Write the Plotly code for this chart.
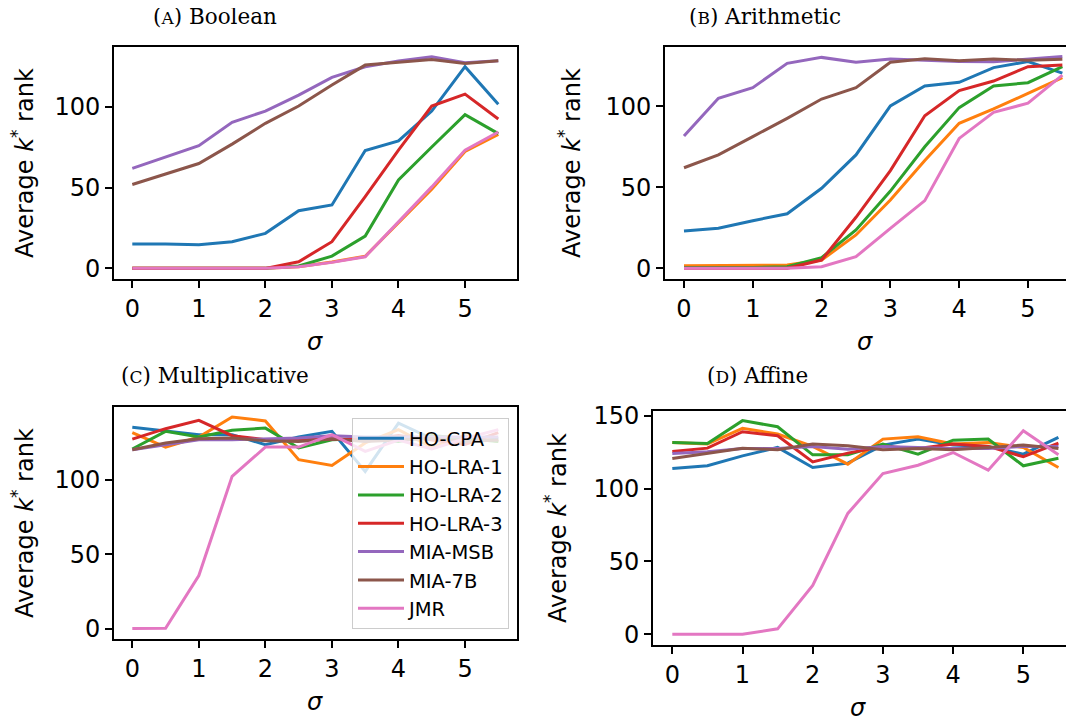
import plotly.graph_objects as go

W, H = 1074, 722
OFF = 8  # the page body adds an 8px margin around the figure

sigma = [0, 0.5, 1, 1.5, 2, 2.5, 3, 3.5, 4, 4.5, 5, 5.5]
methods = ["HO-CPA", "HO-LRA-1", "HO-LRA-2", "HO-LRA-3", "MIA-MSB", "MIA-7B", "JMR"]
colors = ["#1f77b4", "#ff7f0e", "#2ca02c", "#d62728", "#9467bd", "#8c564b", "#e377c2"]

# (A) Boolean
boolean_vals = {
    "HO-CPA":   [15.1, 15.1, 14.6, 16.5, 21.7, 35.7, 39.3, 73.0, 79.0, 97.5, 125.0, 101.8],
    "HO-LRA-1": [0, 0, 0, 0, 0, 1.0, 4.0, 7.5, 28.5, 49.0, 72.5, 83.0],
    "HO-LRA-2": [0, 0, 0, 0, 0, 1.5, 7.6, 20.0, 54.8, 75.2, 95.3, 83.5],
    "HO-LRA-3": [0, 0, 0, 0, 0, 4.1, 16.5, 44.5, 73.3, 100.6, 108.0, 92.6],
    "MIA-MSB":  [62.0, 69.0, 76.0, 90.5, 97.5, 107.4, 118.4, 125.0, 128.5, 131.2, 127.5, 128.7],
    "MIA-7B":   [52.0, 58.5, 65.0, 77.0, 89.9, 100.6, 113.6, 126.0, 127.7, 129.5, 127.0, 128.7],
    "JMR":      [0, 0, 0, 0, 0, 1.0, 3.7, 7.2, 29.0, 50.5, 73.3, 84.5],
}

# (B) Arithmetic
arithmetic_vals = {
    "HO-CPA":   [23.0, 24.7, 29.4, 33.7, 49.4, 70.0, 100.2, 112.6, 114.8, 123.9, 127.6, 120.5],
    "HO-LRA-1": [1.6, 1.6, 2.0, 2.0, 5.1, 20.6, 42.2, 66.5, 89.5, 98.4, 108.0, 117.7],
    "HO-LRA-2": [0.5, 0.5, 0.5, 1.0, 6.6, 23.7, 47.7, 75.0, 99.2, 112.5, 114.6, 124.5],
    "HO-LRA-3": [0, 0, 0, 0, 5.1, 31.5, 60.3, 94.2, 109.7, 115.6, 124.5, 125.5],
    "MIA-MSB":  [81.7, 105.0, 111.5, 126.5, 130.2, 127.2, 129.2, 128.4, 127.6, 127.5, 129.2, 130.7],
    "MIA-7B":   [62.1, 70.0, 81.3, 92.6, 104.5, 111.5, 127.2, 129.4, 128.2, 129.2, 128.4, 129.0],
    "JMR":      [0, 0, 0, 0, 1.0, 7.2, 24.7, 41.8, 80.2, 96.3, 101.9, 119.3],
}

# (C) Multiplicative
multiplicative_vals = {
    "HO-CPA":   [135.5, 132.8, 130.6, 130.6, 123.8, 129.0, 132.8, 105.8, 138.4, 128.0, 128.5, 128.0],
    "HO-LRA-1": [132.0, 122.2, 129.0, 142.5, 139.8, 113.7, 109.9, 125.0, 134.0, 122.0, 130.0, 126.0],
    "HO-LRA-2": [120.9, 132.8, 129.0, 133.5, 135.0, 121.6, 127.2, 128.0, 126.0, 130.0, 128.0, 126.0],
    "HO-LRA-3": [127.6, 134.6, 140.2, 129.9, 127.2, 127.2, 127.9, 127.0, 130.0, 127.0, 124.0, 132.0],
    "MIA-MSB":  [120.4, 123.8, 127.2, 127.2, 127.9, 128.3, 129.9, 129.0, 129.0, 129.0, 129.5, 129.0],
    "MIA-7B":   [120.4, 125.0, 127.9, 128.3, 126.5, 126.0, 127.6, 126.0, 127.0, 128.0, 126.0, 127.0],
    "JMR":      [0.0, 0.2, 35.7, 102.5, 122.2, 122.2, 130.6, 119.3, 127.0, 121.0, 128.0, 134.0],
}

# (D) Affine
affine_vals = {
    "HO-CPA":   [113.7, 115.6, 122.4, 128.2, 114.4, 117.4, 129.8, 133.9, 129.8, 128.9, 123.6, 135.1],
    "HO-LRA-1": [131.6, 130.5, 141.3, 137.4, 128.9, 116.7, 133.9, 135.5, 130.5, 131.6, 128.2, 114.4],
    "HO-LRA-2": [131.6, 130.9, 146.6, 142.4, 123.1, 123.1, 130.5, 123.6, 133.2, 133.9, 115.6, 120.8],
    "HO-LRA-3": [125.4, 127.7, 139.0, 136.2, 118.3, 124.3, 128.9, 127.5, 130.5, 128.9, 121.8, 131.2],
    "MIA-MSB":  [124.0, 125.2, 127.5, 127.5, 128.9, 127.0, 128.9, 128.2, 127.5, 127.5, 128.9, 128.9],
    "MIA-7B":   [120.6, 124.3, 127.7, 126.6, 130.5, 129.3, 126.6, 127.5, 126.6, 128.2, 129.8, 127.5],
    "JMR":      [0, 0, 0, 3.7, 33.5, 82.9, 110.3, 116.0, 124.7, 112.6, 139.7, 123.1],
}

panel_titles = [
    '(<span style="font-size:17px">A</span>) Boolean',
    '(<span style="font-size:17px">B</span>) Arithmetic',
    '(<span style="font-size:17px">C</span>) Multiplicative',
    '(<span style="font-size:17px">D</span>) Affine',
]
y_ticks = [[0, 50, 100], [0, 50, 100], [0, 50, 100], [0, 50, 100, 150]]
x_ticks = [0, 1, 2, 3, 4, 5]

datasets = [boolean_vals, arithmetic_vals, multiplicative_vals, affine_vals]

def px2x(p):
    return (p - OFF) / W

def px2y(p):
    return 1 - (p - OFF) / H

# layout geometry in window pixels : left, right, top, bottom, x-range, y-range
panels = [
    dict(l=114, r=516.6, t=46.7, b=279.0, xr=[-0.275, 5.775], yr=[-6.6, 137.4], closed=True,
         title=(215, 16), ylab=(23, 163), xlab=(315, 342)),
    dict(l=665, r=1074, t=46.7, b=278.7, xr=[-0.276, 5.669], yr=[-6.4, 136.8], closed=False,
         title=(765, 16), ylab=(570, 163), xlab=(865, 342)),
    dict(l=114, r=516.6, t=407.3, b=639.3, xr=[-0.275, 5.775], yr=[-7.2, 149.0], closed=True,
         title=(215, 375), ylab=(23, 523), xlab=(315, 702)),
    dict(l=653, r=1074, t=411.0, b=645.0, xr=[-0.275, 5.722], yr=[-7.4, 153.2], closed=False,
         title=(757, 375), ylab=(556, 528), xlab=(858, 708)),
]

fig = go.Figure()
tick_font = dict(family="DejaVu Sans", size=24, color="black")
label_font = dict(family="DejaVu Sans", size=24, color="black")

annotations = []
for i, (vals, p) in enumerate(zip(datasets, panels)):
    n = i + 1
    xa = "x" if n == 1 else f"x{n}"
    ya = "y" if n == 1 else f"y{n}"
    for m, c in zip(methods, colors):
        fig.add_trace(go.Scatter(
            x=sigma, y=vals[m], mode="lines", name=m,
            line=dict(color=c, width=3),
            xaxis=xa, yaxis=ya,
            showlegend=(n == 3),
        ))
    xkey = "xaxis" if n == 1 else f"xaxis{n}"
    ykey = "yaxis" if n == 1 else f"yaxis{n}"
    fig.update_layout({
        xkey: dict(domain=[px2x(p["l"]), px2x(p["r"])], range=p["xr"], anchor=ya,
                   tickvals=x_ticks, ticks="outside", ticklen=7, tickwidth=2, tickcolor="black",
                   showline=True, linewidth=2, linecolor="black", mirror=True,
                   showgrid=False, zeroline=False, tickfont=tick_font, automargin=False),
        ykey: dict(domain=[px2y(p["b"]), px2y(p["t"])], range=p["yr"], anchor=xa,
                   tickvals=y_ticks[i], ticks="outside", ticklen=7, tickwidth=2, tickcolor="black",
                   showline=True, linewidth=2, linecolor="black", mirror=p["closed"],
                   showgrid=False, zeroline=False, tickfont=tick_font, automargin=False),
    })
    annotations.append(dict(text=panel_titles[i], x=px2x(p["title"][0]), y=px2y(p["title"][1]),
                            xref="paper", yref="paper", showarrow=False,
                            xanchor="center", yanchor="middle",
                            font=dict(family="DejaVu Serif", size=21.5, color="black")))
    annotations.append(dict(text="Average <i>k</i><sup>*</sup> rank", x=px2x(p["ylab"][0]),
                            y=px2y(p["ylab"][1]), xref="paper", yref="paper", showarrow=False,
                            textangle=-90, xanchor="center", yanchor="middle", font=label_font))
    annotations.append(dict(text="<i>σ</i>", x=px2x(p["xlab"][0]), y=px2y(p["xlab"][1]),
                            xref="paper", yref="paper", showarrow=False,
                            xanchor="center", yanchor="middle", font=label_font))

fig.update_layout(
    width=W, height=H,
    margin=dict(l=0, r=0, t=0, b=0, autoexpand=False),
    paper_bgcolor="white", plot_bgcolor="white",
    annotations=annotations,
    legend=dict(x=px2x(352), y=px2y(418), xanchor="left", yanchor="top",
                bgcolor="rgba(255,255,255,0.8)", bordercolor="#cccccc", borderwidth=1,
                tracegroupgap=0, itemwidth=46,
                font=dict(family="DejaVu Sans", size=19.5, color="black")),
)

fig.write_html("out.html")
